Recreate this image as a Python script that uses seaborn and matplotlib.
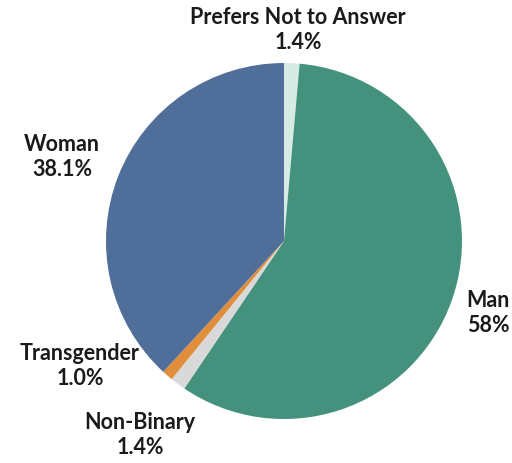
import seaborn as sns
from matplotlib import pyplot as plt

# survey gender breakdown
labels = ["Prefers Not to Answer", "Man", "Non-Binary", "Transgender", "Woman"]
shares = [1.4, 58, 1.4, 1.0, 38.1]
pct_text = ["1.4%", "58%", "1.4%", "1.0%", "38.1%"]
colors = ["#d6ebe3", "#44927e", "#d9d9d9", "#e08e3c", "#4f6f9a"]

sns.set_style("white")
plt.rcParams['font.family'] = ['Lato', 'DejaVu Sans']

fig = plt.figure(figsize=(5.12, 4.63), dpi=100)
ax = fig.add_axes([0.207, 0.095, 0.6953, 0.7689])
ax.pie(shares, colors=colors, startangle=90, counterclock=False,
       wedgeprops=dict(linewidth=0))
ax.set_xlim(-1, 1)
ax.set_ylim(-1, 1)

# label spots, in pie radius units
spots = [(0.08, 1.185), (1.146, -0.404), (-0.809, -1.09), (-1.146, -0.702), (-1.247, 0.472)]
for name, pct, (x, y) in zip(labels, pct_text, spots):
    ax.text(x, y, name + "\n" + pct, ha="center", va="center", fontsize=15.5,
            fontweight="bold", color="#1a1a1a", linespacing=1.25, clip_on=False)

plt.savefig("out.png", dpi=100)
